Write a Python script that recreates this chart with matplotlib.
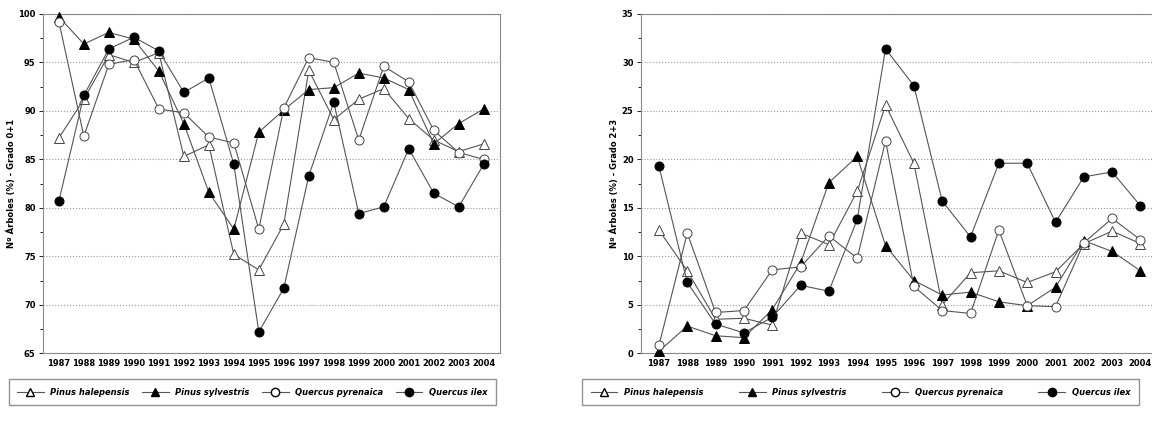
import matplotlib.pyplot as plt
import numpy as np
from matplotlib.lines import Line2D

years = list(range(1987, 2005))

# Grado 0+1
ph_01 = [87.2, 91.2, 95.8, 95.0, 96.0, 85.3, 86.5, 75.2, 73.6, 78.3, 94.2, 89.1, 91.2, 92.3, 89.2, 87.0, 85.8, 86.6]
ps_01 = [99.7, 96.9, 98.1, 97.4, 94.1, 88.7, 81.6, 77.8, 87.8, 90.1, 92.2, 92.4, 93.9, 93.4, 92.2, 86.6, 88.7, 90.2]
qp_01 = [99.2, 87.4, 94.8, 95.3, 90.2, 89.8, 87.3, 86.7, 77.8, 90.3, 95.5, 95.0, 87.0, 94.6, 93.0, 88.0, 85.7, 85.0]
qi_01 = [80.7, 91.6, 96.4, 97.6, 96.2, 91.9, 93.4, 84.5, 67.2, 71.7, 83.3, 90.9, 79.4, 80.1, 86.1, 81.5, 80.1, 84.5]

# Grado 2+3
ph_23 = [12.7, 8.5, 3.5, 3.6, 2.9, 12.4, 11.2, 16.7, 25.6, 19.6, 5.0, 8.3, 8.5, 7.3, 8.4, 11.3, 12.6, 11.3]
ps_23 = [0.2, 2.8, 1.8, 1.6, 4.5, 9.3, 17.6, 20.3, 11.1, 7.5, 6.0, 6.3, 5.3, 4.9, 6.8, 11.6, 10.5, 8.5]
qp_23 = [0.8, 12.4, 4.2, 4.4, 8.6, 8.9, 12.1, 9.8, 21.9, 6.9, 4.4, 4.1, 12.7, 4.9, 4.8, 11.4, 13.9, 11.7]
qi_23 = [19.3, 7.3, 3.0, 2.1, 3.7, 7.0, 6.4, 13.8, 31.4, 27.6, 15.7, 12.0, 19.6, 19.6, 13.5, 18.2, 18.7, 15.2]

species = ["Pinus halepensis", "Pinus sylvestris", "Quercus pyrenaica", "Quercus ilex"]
styles = [("^", "white"), ("^", "black"), ("o", "white"), ("o", "black")]
line_col = "#555555"

fig = plt.figure(figsize=(11.52, 4.24), dpi=100)
fig.patch.set_facecolor("white")


def draw(ax, series, ylim, step, ylabel):
    for vals, (m, fc) in zip(series, styles):
        ax.plot(years, vals, color=line_col, lw=0.8, marker=m, markersize=6.5,
                markerfacecolor=fc, markeredgecolor="black" if fc == "black" else "#444444",
                markeredgewidth=0.7, clip_on=False, zorder=3)
    ax.set_xlim(1986.35, 2004.65)
    ax.set_ylim(*ylim)
    ax.set_yticks(np.arange(ylim[0], ylim[1] + 0.1, step))
    ax.set_yticks(np.arange(ylim[0], ylim[1] + 0.1, step / 2), minor=True)
    ax.set_xticks(years)
    ax.tick_params(labelsize=6, width=0.6, length=3, pad=2)
    ax.tick_params(axis="x", length=0, pad=4)
    for lab in ax.get_xticklabels() + ax.get_yticklabels():
        lab.set_fontweight("bold")
    ax.grid(axis="y", color="#999999", ls=":", lw=0.8)
    for s in ax.spines.values():
        s.set_color("#888888")
        s.set_linewidth(0.8)
    ax.set_ylabel(ylabel, fontsize=6, fontweight="bold", labelpad=2)


ax1 = fig.add_axes([0.037, 0.167, 0.397, 0.80])
draw(ax1, [ph_01, ps_01, qp_01, qi_01], (65, 100), 5, "Nº Árboles (%) - Grado 0+1")
ax2 = fig.add_axes([0.556, 0.167, 0.45, 0.80])
draw(ax2, [ph_23, ps_23, qp_23, qi_23], (0, 35), 5, "Nº Árboles (%) - Grado 2+3")
ax2.spines["right"].set_visible(False)

handles = [Line2D([], [], color=line_col, lw=0.8, marker=m, markersize=6,
                  markerfacecolor=fc, markeredgecolor="black") for m, fc in styles]
for box in ((0.004, 0.035, 0.43, 0.08), (0.502, 0.035, 0.49, 0.08)):
    fig.legend(handles, species, loc="center left", bbox_to_anchor=box, mode="expand",
               ncol=4, frameon=True, fancybox=False, edgecolor="#777777",
               prop={"size": 6, "weight": "bold", "style": "italic"},
               handlelength=3.2, borderpad=1.0)

fig.savefig("out.png", dpi=100)
